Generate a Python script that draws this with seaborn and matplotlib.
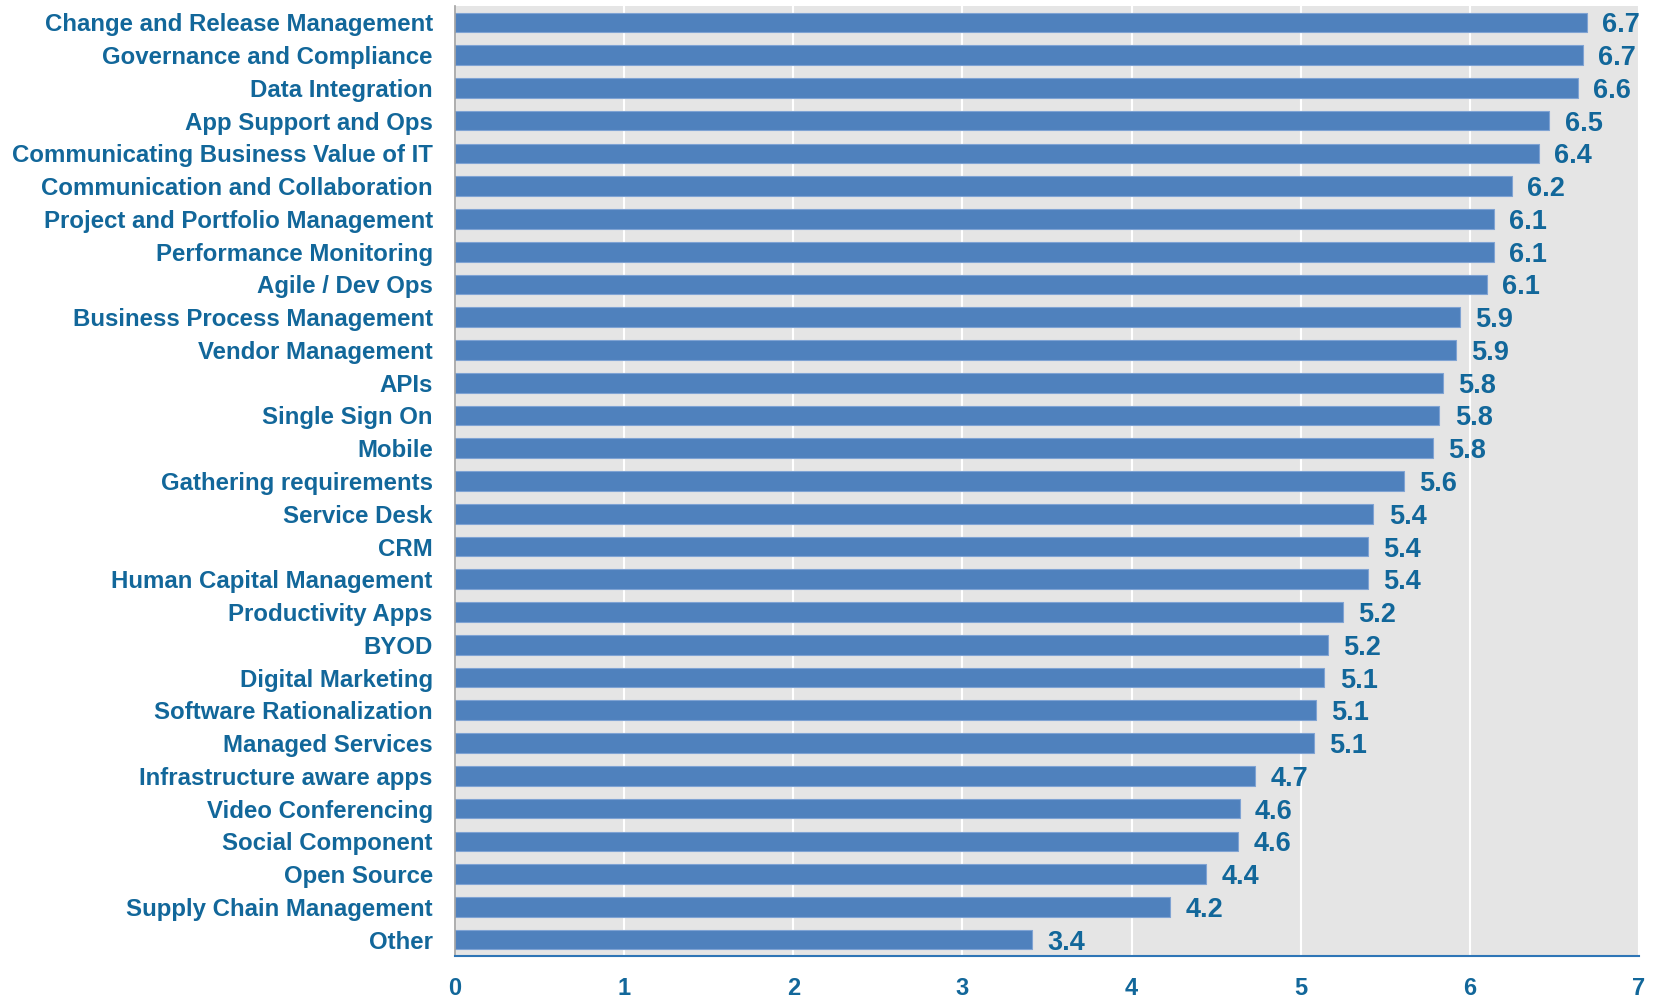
import matplotlib
matplotlib.use("Agg")
import matplotlib.pyplot as plt
import numpy as np
import pandas as pd
import seaborn as sns

# categories, top to bottom
categories = [
    "Change and Release Management", "Governance and Compliance", "Data Integration",
    "App Support and Ops", "Communicating Business Value of IT",
    "Communication and Collaboration", "Project and Portfolio Management",
    "Performance Monitoring", "Agile / Dev Ops", "Business Process Management",
    "Vendor Management", "APIs", "Single Sign On", "Mobile",
    "Gathering requirements", "Service Desk", "CRM", "Human Capital Management",
    "Productivity Apps", "BYOD", "Digital Marketing", "Software Rationalization",
    "Managed Services", "Infrastructure aware apps", "Video Conferencing",
    "Social Component", "Open Source", "Supply Chain Management", "Other",
]
scores = [
    6.69, 6.67, 6.64, 6.47, 6.41, 6.25, 6.14, 6.14, 6.10, 5.94,
    5.92, 5.84, 5.82, 5.78, 5.61, 5.43, 5.40, 5.40, 5.25, 5.16,
    5.14, 5.09, 5.08, 4.73, 4.64, 4.63, 4.44, 4.23, 3.41,
]
x_ticks = [0, 1, 2, 3, 4, 5, 6, 7]

df = pd.DataFrame({"category": categories, "score": scores})

text_color = "#12679A"
bar_color = "#4F81BD"

sns.set_style("whitegrid")
plt.rcParams["font.family"] = ["Liberation Sans", "DejaVu Sans"]

fig = plt.figure(figsize=(16.55, 9.97), dpi=100)
ax = fig.add_axes([455 / 1655, 41 / 997, (1639 - 455) / 1655, 950 / 997])
ax.set_facecolor("#E5E5E5")

sns.barplot(data=df, x="score", y="category", orient="h", color=bar_color,
            saturation=1, width=0.6, edgecolor="#7FA3D3", linewidth=0.8, ax=ax)

# value labels to the right of each bar
for i, v in enumerate(scores):
    ax.text(v + 0.09, i, f"{v:.1f}", va="center_baseline", ha="left",
            fontsize=19.5, fontweight="bold", color=text_color)

ax.set_xlim(0, 7)
ax.set_ylim(len(categories) - 0.5, -0.5)
ax.set_xticks(x_ticks)
ax.set_xticklabels([str(t) for t in x_ticks], fontsize=17, fontweight="bold",
                   color=text_color)
ax.tick_params(axis="x", length=0, pad=15)
ax.tick_params(axis="y", which="major", length=0, pad=16, labelsize=17.3,
               labelcolor=text_color)
for lab in ax.get_yticklabels():
    lab.set_fontweight("bold")
# excel-style tick marks between categories
ax.set_yticks(np.arange(-0.5, len(categories), 1), minor=True)
ax.tick_params(axis="y", which="minor", length=7, width=1.2, color="#A0A0A0",
               direction="out")

ax.grid(axis="x", color="white", linewidth=1.5)
ax.grid(axis="y", visible=False)
ax.set_axisbelow(True)
ax.set_xlabel("")
ax.set_ylabel("")

for side in ["top", "right"]:
    ax.spines[side].set_visible(False)
ax.spines["left"].set_color("#A0A0A0")
ax.spines["left"].set_linewidth(1.2)
ax.spines["bottom"].set_color("#2E75B6")
ax.spines["bottom"].set_linewidth(1.5)

fig.savefig("out.png", dpi=100)
